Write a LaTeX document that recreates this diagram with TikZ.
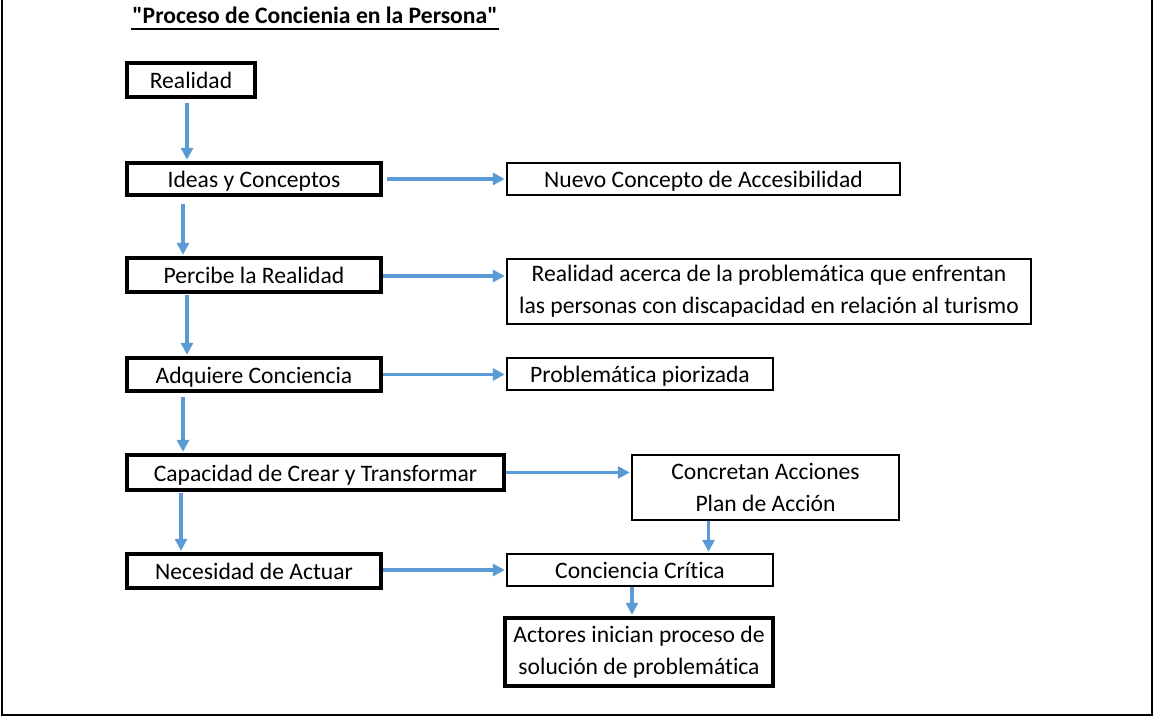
\documentclass[tikz,border=0pt]{standalone}
\usepackage{fontspec}
\setmainfont{Carlito}[Ligatures={TeX,NoCommon}]
\newfontfamily\titlefont{Carlito}[Ligatures={TeXOff,NoCommon}]
\usetikzlibrary{arrows.meta,calc}
\definecolor{arrowblue}{RGB}{91,155,213}
\begin{document}
\begin{tikzpicture}[x=0.5pt,y=-0.5pt,
  font=\fontsize{11.8}{16}\selectfont,
  thickbox/.style={draw=black,line width=2pt,inner sep=0pt,align=center},
  thinbox/.style={draw=black,line width=1pt,inner sep=0pt,align=center},
  oneline/.style={text height=8.5pt,text depth=0pt},
  arr/.style={draw=arrowblue,line width=1.55pt,shorten >=0.6pt,-{Triangle[length=6pt,width=6pt]}},
]
\useasboundingbox (0,0) rectangle (1155,717);
\draw[line width=1.1pt] (2,-2) -- (2,715) -- (1152,715) -- (1152,-2);

\node[font=\fontsize{11.8}{16}\selectfont\titlefont\bfseries,inner sep=0pt,anchor=base] (title) at (315,24) {"Proceso de Concienia en la Persona"};
\draw[line width=1pt] ($(title.base west)+(-1,5)$) -- ($(title.base east)+(1,5)$);

% left column
\node[thickbox,oneline,minimum width=64pt,minimum height=17pt] (realidad) at (191,80) {Realidad};
\node[thickbox,oneline,minimum width=127pt,minimum height=16pt] (ideas) at (254,179) {Ideas y Conceptos};
\node[thickbox,oneline,minimum width=127pt,minimum height=17pt] (percibe) at (254,275) {Percibe la Realidad};
\node[thickbox,oneline,minimum width=127pt,minimum height=16.5pt] (adquiere) at (254,374.5) {Adquiere Conciencia};
\node[thickbox,oneline,minimum width=188.5pt,minimum height=17.5pt] (capacidad) at (315.5,472.5) {Capacidad de Crear y Transformar};
\node[thickbox,oneline,minimum width=127pt,minimum height=17pt] (necesidad) at (254,571) {Necesidad de Actuar};

% right column
\node[thinbox,oneline,minimum width=196.5pt,minimum height=16pt] (nuevo) at (703.5,179) {Nuevo Concepto de Accesibilidad};
\node[thinbox,minimum width=262pt,minimum height=32.5pt] (realacerca) at (769,291.5) {Realidad acerca de la problemática que enfrentan\\las personas con discapacidad en relación al turismo};
\node[thinbox,oneline,minimum width=133pt,minimum height=16pt] (problem) at (640,374) {Problemática piorizada};
\node[thinbox,minimum width=133.5pt,minimum height=32.5pt] (concretan) at (765.5,487.5) {Concretan Acciones\\Plan de Acción};
\node[thinbox,oneline,minimum width=133pt,minimum height=16pt] (critica) at (640,570) {Conciencia Crítica};
\node[thickbox,minimum width=134pt,minimum height=34pt] (actores) at (639,652) {Actores inician proceso de\\solución de problemática};

% vertical arrows
\draw[arr] ($(realidad.south)+(-4,4)$) coordinate (a1) -- (a1 |- ideas.north);
\draw[arr] ($(ideas.south)+(-71,7)$) coordinate (a2) -- (a2 |- percibe.north);
\draw[arr] ($(percibe.south)+(-67,1)$) coordinate (a3) -- (a3 |- adquiere.north);
\draw[arr] ($(adquiere.south)+(-71,4)$) coordinate (a4) -- (a4 |- capacidad.north);
\draw[arr] ($(capacidad.south)+(-134.5,1)$) coordinate (a5) -- (a5 |- necesidad.north);
\draw[arr] ($(concretan.south)+(-57,0)$) coordinate (a6) -- (a6 |- critica.north);
\draw[arr] ($(critica.south)+(-8,0)$) coordinate (a7) -- (a7 |- actores.north);

% horizontal arrows
\draw[arr] ($(ideas.east)+(4,0)$) -- (nuevo.west);
\draw[arr] ($(percibe.east)+(0,1)$) coordinate (b2) -- (b2 -| realacerca.west);
\draw[arr] (adquiere.east) -- (adquiere.east -| problem.west);
\draw[arr] (capacidad.east) -- (capacidad.east -| concretan.west);
\draw[arr] ($(necesidad.east)+(0,-1)$) coordinate (b5) -- (b5 -| critica.west);
\end{tikzpicture}
\end{document}
